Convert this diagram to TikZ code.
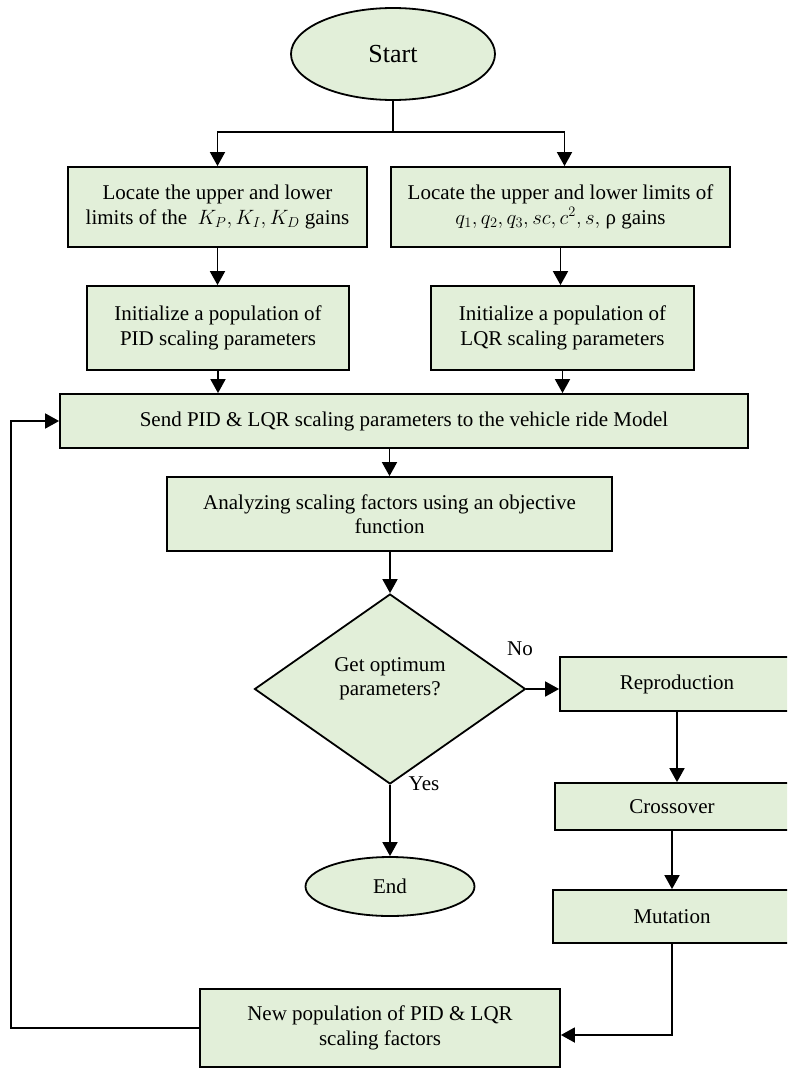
\documentclass[tikz,border=0pt]{standalone}
\usepackage{fontspec}
\setmainfont{Liberation Serif}
\usetikzlibrary{shapes.geometric,arrows.meta}
\definecolor{boxgreen}{HTML}{E2EFD9}
\begin{document}
\begin{tikzpicture}[x=1pt,y=-1pt,
    box/.style={draw,fill=boxgreen,line width=1.8pt,align=center,inner sep=0pt,
      font=\fontsize{21}{24.5}\selectfont},
    term/.style={ellipse,draw,fill=boxgreen,line width=1.8pt,inner sep=0pt,
      font=\fontsize{21}{24.5}\selectfont},
    decision/.style={diamond,draw,fill=boxgreen,line width=1.8pt,inner sep=0pt,
      align=center,font=\fontsize{21}{24.5}\selectfont},
    lbl/.style={font=\fontsize{21}{24.5}\selectfont,inner sep=0pt},
    arr/.style={line width=1.8pt,-{Triangle[length=14pt,width=15pt]}}]
    \useasboundingbox (0,0) rectangle (787,1068);
    \clip (0,0) rectangle (787,1068);
    % terminals and boxes
    \node[term,minimum width=204pt,minimum height=92pt,font=\fontsize{26}{30}\selectfont]
      (start) at (393,54) {Start};
    \node[box,minimum width=299pt,minimum height=80pt] (lim1) at (217.5,207)
      {Locate the upper and lower\\limits of the \ $K_P, K_I, K_D$ gains};
    \node[box,minimum width=339pt,minimum height=80pt] (lim2) at (560.5,207)
      {Locate the upper and lower limits of\\$q_1, q_2, q_3, sc, c^2, s,$ ρ gains};
    \node[box,minimum width=262pt,minimum height=84pt] (init1) at (218,328)
      {Initialize a population of\\PID scaling parameters};
    \node[box,minimum width=263pt,minimum height=84pt] (init2) at (562.5,328)
      {Initialize a population of\\LQR scaling parameters};
    \node[box,minimum width=688pt,minimum height=54pt] (send) at (404,421)
      {Send PID \& LQR scaling parameters to the vehicle ride Model};
    \node[box,minimum width=445pt,minimum height=74pt] (anal) at (389.5,514)
      {Analyzing scaling factors using an objective\\function};
    \node[decision,minimum width=271pt,minimum height=190pt] (dec) at (390,689)
      {Get optimum\\parameters?\\\mbox{}};
    \node[box,minimum width=234pt,minimum height=54pt] (repr) at (677,684) {Reproduction};
    \node[box,minimum width=234pt,minimum height=47pt] (cross) at (672,806.5) {Crossover};
    \node[box,minimum width=238pt,minimum height=53pt] (mut) at (672,916.5) {Mutation};
    \node[box,minimum width=360pt,minimum height=78pt] (newp) at (380,1028)
      {New population of PID \& LQR\\scaling factors};
    \node[term,minimum width=169pt,minimum height=59pt] (end) at (390,886.5) {End};
    \node[lbl] (no) at (520,649) {No};
    \node[lbl] (yes) at (424,784) {Yes};
    % connectors
    \coordinate (split) at (393,132);
    \draw[line width=1.8pt] (start.south) -- (split);
    \draw[arr] (split) -| (lim1.north);
    \draw[arr] (split) -| ([xshift=4pt]lim2.north);
    \draw[arr] (lim1.south) -- (lim1.south |- init1.north);
    \draw[arr] (lim2.south) -- (lim2.south |- init2.north);
    \draw[arr] (init1.south) -- (init1.south |- send.north);
    \draw[arr] (init2.south) -- (init2.south |- send.north);
    \draw[arr] (anal.north |- send.south) -- (anal.north);
    \draw[arr] (dec.north |- anal.south) -- (dec.north);
    \draw[arr] (dec.east) -- (dec.east -| repr.west);
    \draw[arr] (dec.south) -- (end.north);
    \draw[arr] (repr.south) -- (repr.south |- cross.north);
    \draw[arr] (cross.south) -- (cross.south |- mut.north);
    \draw[arr] (mut.south) |- ([yshift=-7pt]newp.east);
    \draw[arr] (newp.west) -- ++(-188,0) |- (send.west);
\end{tikzpicture}
\end{document}
